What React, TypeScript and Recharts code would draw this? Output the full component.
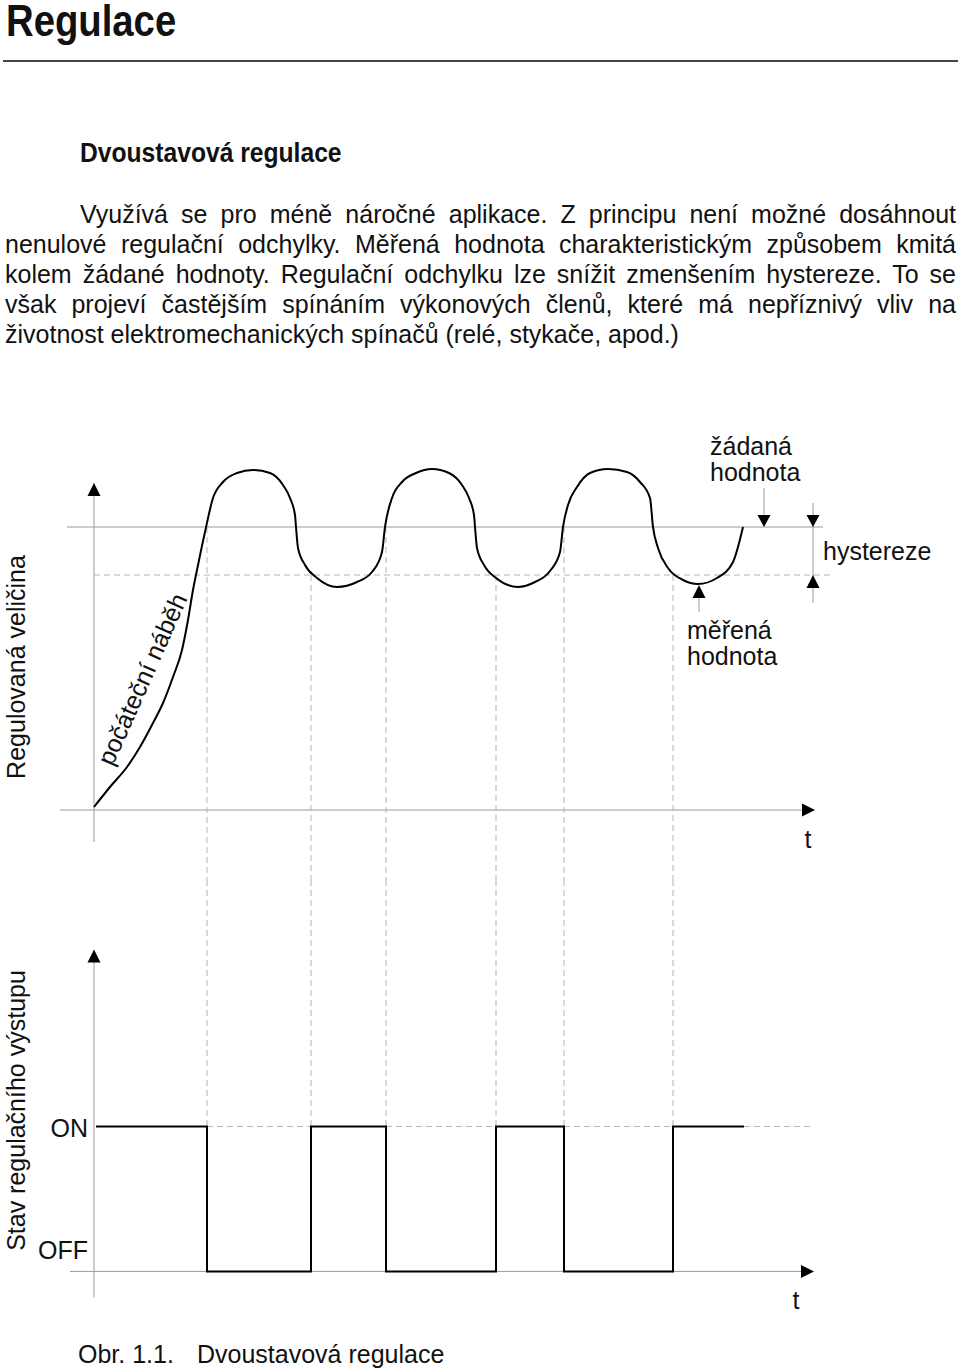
import { ComposedChart, Line, XAxis, YAxis, ReferenceLine, ReferenceDot } from 'recharts'

const FONT = '"Liberation Sans", Arial, Helvetica, sans-serif'

const curveTime = [0, 1.6, 3.3, 4.6, 5.9, 6.9, 7.9, 8.8, 9.4, 9.9, 10.3, 11.1, 11.9, 12.9, 14.3, 15.9, 17.6, 18.9, 19.6, 20.1, 20.2, 20.4, 21.1, 22.3, 24.3, 26.3, 27.8, 28.8, 29.1, 29.8, 30.8, 32.2, 33.8, 35.5, 36.8, 37.5, 38.0, 38.1, 38.3, 39.0, 40.2, 42.4, 44.1, 45.6, 46.6, 46.9, 47.4, 48.3, 49.6, 51.4, 53.3, 54.6, 55.6, 55.9, 56.4, 57.4, 58.9, 60.4, 62.3, 63.9, 64.9]
const curveValue = [0.3, 2.3, 4.3, 6.3, 8.7, 10.7, 13.3, 16.0, 19.0, 22.0, 24.0, 27.8, 31.2, 32.8, 33.7, 34.0, 33.7, 32.5, 31.2, 29.5, 28.3, 26.2, 24.5, 23.2, 22.3, 22.8, 23.8, 25.8, 28.3, 31.2, 32.8, 33.7, 34.1, 33.7, 32.5, 31.2, 29.5, 28.3, 26.2, 24.5, 23.2, 22.3, 22.8, 23.9, 25.8, 28.3, 30.5, 32.3, 33.7, 34.1, 33.8, 32.8, 31.2, 28.3, 26.2, 24.2, 23.0, 22.6, 23.2, 24.8, 28.3]
const setpoint = 28.3
const lowerLimit = 23.5

// output state (bottom chart): 1 = ON, 0 = OFF
const switchTime = [0.2, 11.3, 21.7, 29.2, 40.2, 47.0, 57.9, 65.0]
const switchState = [1, 0, 1, 0, 1, 0, 1, 1]

const paragraph = [
  'Využívá se pro méně náročné aplikace. Z principu není možné dosáhnout',
  'nenulové regulační odchylky. Měřená hodnota charakteristickým způsobem kmitá',
  'kolem žádané hodnoty. Regulační odchylku lze snížit zmenšením hystereze. To se',
  'však projeví častějším spínáním výkonových členů, které má nepříznivý vliv na',
  'životnost elektromechanických spínačů (relé, stykače, apod.)',
]

const curveData = curveTime.map((t, i) => ({ t, v: curveValue[i] }))
const stateData = switchTime.map((t, i) => ({ t, s: switchState[i] }))

const AXIS = '#9a9a9a'
const GUIDE = '#b4b4b4'

const textShape = (lines: string[], anchor: 'start' | 'middle' | 'end' = 'start', angle = 0, baseline?: string) => (p: any) => (
  <text
    x={p.cx}
    y={p.cy}
    textAnchor={anchor}
    dominantBaseline={baseline}
    fontSize={25}
    fontFamily={FONT}
    fill="#111"
    transform={angle ? `rotate(${angle} ${p.cx} ${p.cy})` : undefined}
  >
    {lines.map((l, i) => (
      <tspan key={i} x={p.cx} dy={i ? 25.5 : 0}>{l}</tspan>
    ))}
  </text>
)

const arrow = (dir: 'up' | 'down' | 'right') => (p: any) => {
  const { cx, cy } = p
  const pts =
    dir === 'up' ? `${cx},${cy} ${cx - 6.5},${cy + 13} ${cx + 6.5},${cy + 13}`
    : dir === 'down' ? `${cx},${cy} ${cx - 6.5},${cy - 12} ${cx + 6.5},${cy - 12}`
    : `${cx},${cy} ${cx - 13},${cy - 6.5} ${cx - 13},${cy + 6.5}`
  return <polygon points={pts} fill="#000" />
}

function MeasuredChart() {
  const switches = switchTime.slice(1, -1)
  return (
    <ComposedChart width={960} height={480} data={curveData} margin={{ top: 20, right: 106, bottom: 0, left: 4 }}>
      <XAxis dataKey="t" type="number" domain={[-9, 76]} hide allowDataOverflow />
      <YAxis type="number" domain={[-7, 39]} hide allowDataOverflow />
      <ReferenceLine segment={[{ x: 0, y: -3.2 }, { x: 0, y: 32.7 }]} stroke={AXIS} />
      <ReferenceLine segment={[{ x: -3.4, y: 0 }, { x: 71, y: 0 }]} stroke={AXIS} />
      <ReferenceLine segment={[{ x: -2.7, y: setpoint }, { x: 72.9, y: setpoint }]} stroke={AXIS} />
      <ReferenceLine segment={[{ x: 0, y: lowerLimit }, { x: 73.8, y: lowerLimit }]} stroke={GUIDE} strokeDasharray="6 4" />
      {switches.map((t, i) => (
        <ReferenceLine
          key={t}
          segment={[{ x: t, y: switchState[i + 1] === 0 ? setpoint : lowerLimit }, { x: t, y: -7 }]}
          stroke={GUIDE}
          strokeDasharray="6 4"
        />
      ))}
      <ReferenceLine segment={[{ x: 67, y: 32.2 }, { x: 67, y: 29.4 }]} stroke={AXIS} />
      <ReferenceLine segment={[{ x: 71.9, y: 30.7 }, { x: 71.9, y: 20.7 }]} stroke={AXIS} />
      <ReferenceLine segment={[{ x: 60.5, y: 21.2 }, { x: 60.5, y: 19.8 }]} stroke={AXIS} />
      <Line dataKey="v" type="monotone" stroke="#000" strokeWidth={2} dot={false} activeDot={false} isAnimationActive={false} />
      <ReferenceDot x={0} y={32.7} r={0} shape={arrow('up')} />
      <ReferenceDot x={72.1} y={0} r={0} shape={arrow('right')} />
      <ReferenceDot x={67} y={setpoint} r={0} shape={arrow('down')} />
      <ReferenceDot x={71.9} y={setpoint} r={0} shape={arrow('down')} />
      <ReferenceDot x={71.9} y={lowerLimit} r={0} shape={arrow('up')} />
      <ReferenceDot x={60.5} y={22.5} r={0} shape={arrow('up')} />
      <ReferenceDot x={71.4} y={-3.8} r={0} shape={textShape(['t'], 'middle')} />
      <ReferenceDot x={61.6} y={35.5} r={0} shape={textShape(['žádaná', 'hodnota'])} />
      <ReferenceDot x={72.9} y={25} r={0} shape={textShape(['hystereze'])} />
      <ReferenceDot x={59.3} y={17.1} r={0} shape={textShape(['měřená', 'hodnota'])} />
      <ReferenceDot x={4.8} y={13.1} r={0} shape={textShape(['počáteční náběh'], 'middle', -66, 'central')} />
      <ReferenceDot x={-6.9} y={14.3} r={0} shape={textShape(['Regulovaná veličina'], 'middle', -90)} />
    </ComposedChart>
  )
}

function OutputChart() {
  // dashed ON level only where the output is OFF
  const offSpans: [number, number][] = []
  switchState.forEach((s, i) => {
    if (s === 0) offSpans.push([switchTime[i], switchTime[i + 1]])
  })
  offSpans.push([switchTime[switchTime.length - 1], 72])
  return (
    <ComposedChart width={960} height={490} data={stateData} margin={{ top: 0, right: 106, bottom: 0, left: 4 }}>
      <XAxis dataKey="t" type="number" domain={[-9, 76]} hide allowDataOverflow />
      <YAxis type="number" domain={[-0.68, 2.7]} hide allowDataOverflow />
      <ReferenceLine segment={[{ x: 0, y: -0.18 }, { x: 0, y: 2.2 }]} stroke={AXIS} />
      <ReferenceLine segment={[{ x: -2.4, y: 0 }, { x: 71, y: 0 }]} stroke={AXIS} />
      {offSpans.map(([a, b]) => (
        <ReferenceLine key={a} segment={[{ x: a, y: 1 }, { x: b, y: 1 }]} stroke={GUIDE} strokeDasharray="6 4" />
      ))}
      {switchTime.slice(1, -1).map((t) => (
        <ReferenceLine key={t} segment={[{ x: t, y: 2.7 }, { x: t, y: 1 }]} stroke={GUIDE} strokeDasharray="6 4" />
      ))}
      <Line dataKey="s" type="stepAfter" stroke="#000" strokeWidth={2} dot={false} activeDot={false} isAnimationActive={false} />
      <ReferenceDot x={0} y={2.22} r={0} shape={arrow('up')} />
      <ReferenceDot x={72} y={0} r={0} shape={arrow('right')} />
      <ReferenceDot x={-0.6} y={0.93} r={0} shape={textShape(['ON'], 'end')} />
      <ReferenceDot x={-0.6} y={0.083} r={0} shape={textShape(['OFF'], 'end')} />
      <ReferenceDot x={70.2} y={-0.26} r={0} shape={textShape(['t'], 'middle')} />
      <ReferenceDot x={-6.9} y={1.11} r={0} shape={textShape(['Stav regulačního výstupu'], 'middle', -90)} />
    </ComposedChart>
  )
}

export default function App() {
  return (
    <div style={{ position: 'absolute', left: 0, top: 0, width: 960, height: 1371, background: '#fff', overflow: 'hidden', fontFamily: FONT, color: '#111' }}>
      <div style={{ position: 'absolute', left: 6, top: 0, fontSize: 44, lineHeight: '42px', fontWeight: 700, transform: 'scaleX(0.87)', transformOrigin: 'left' }}>Regulace</div>
      <div style={{ position: 'absolute', left: 3, top: 60, width: 955, height: 2, background: '#444' }} />
      <div style={{ position: 'absolute', left: 80, top: 139, fontSize: 28, lineHeight: '28px', fontWeight: 700, transform: 'scaleX(0.88)', transformOrigin: 'left' }}>Dvoustavová regulace</div>
      {paragraph.map((line, i) => {
        const last = i === paragraph.length - 1
        return (
          <div
            key={i}
            style={{
              position: 'absolute',
              left: i === 0 ? 80 : 5,
              width: i === 0 ? 876 : 951,
              top: 199 + i * 30,
              fontSize: 25,
              lineHeight: '30px',
              textAlign: 'justify',
              textAlignLast: last ? 'left' : 'justify',
              whiteSpace: 'nowrap',
            }}
          >
            {line}
          </div>
        )
      })}
      <div style={{ position: 'absolute', left: 0, top: 400 }}>
        <MeasuredChart />
      </div>
      <div style={{ position: 'absolute', left: 0, top: 880 }}>
        <OutputChart />
      </div>
      <div style={{ position: 'absolute', left: 78, top: 1339, fontSize: 25, lineHeight: '30px' }}>Obr. 1.1.</div>
      <div style={{ position: 'absolute', left: 197, top: 1339, fontSize: 25, lineHeight: '30px' }}>Dvoustavová regulace</div>
    </div>
  )
}
